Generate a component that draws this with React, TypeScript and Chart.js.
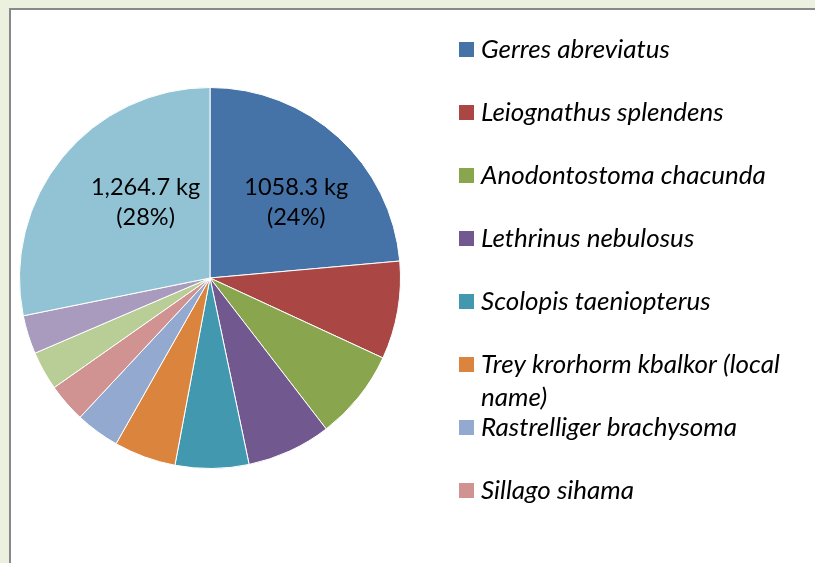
import React, { useEffect, useRef } from "react";
import { Chart, registerables } from "chart.js";

Chart.register(...registerables);

// ---- data ----
const species = [
  "Gerres abreviatus",
  "Leiognathus splendens",
  "Anodontostoma chacunda",
  "Lethrinus nebulosus",
  "Scolopis taeniopterus",
  "Trey krorhorm kbalkor (local name)",
  "Rastrelliger brachysoma",
  "Sillago sihama",
  "Species 9",
  "Species 10",
  "Others",
];
const catchKg = [1058.3, 373, 344, 321, 280, 236, 168, 148, 148, 147, 1264.7];
const sliceColors = [
  "#4572A7",
  "#AA4643",
  "#89A54E",
  "#71588F",
  "#4198AF",
  "#DB843D",
  "#93A9CF",
  "#D19392",
  "#B9CD96",
  "#A99BBD",
  "#92C3D5",
];
// legend lines as they wrap in the original (only the first 8 entries fit)
const legendLines = [
  ["Gerres abreviatus"],
  ["Leiognathus splendens"],
  ["Anodontostoma chacunda"],
  ["Lethrinus nebulosus"],
  ["Scolopis taeniopterus"],
  ["Trey krorhorm kbalkor (local", "name)"],
  ["Rastrelliger brachysoma"],
  ["Sillago sihama"],
];
// which slices carry a data label, and how the number is written
const labelledSlices = [0, 10];
const groupedFormat = [false, true];

// ---- styling / placement ----
const FONT = "Lato";
const LEGEND_X = 448;
const LEGEND_TOP = 39.5;
const LEGEND_STEP = 63;
const labelPlacement = [
  { shift: 5.7, frac: 0.608 },
  { shift: 10.9, frac: 0.528 },
];

function formatKg(v: number, grouped: boolean) {
  const s = grouped
    ? v.toLocaleString("en-US", { minimumFractionDigits: 1, maximumFractionDigits: 1 })
    : v.toFixed(1);
  return s + " kg";
}

const legendPlugin = {
  id: "customLegend",
  afterDraw(chart: any) {
    const ctx = chart.ctx;
    ctx.save();
    ctx.font = `italic 26px ${FONT}`;
    ctx.textAlign = "left";
    ctx.textBaseline = "alphabetic";
    legendLines.forEach((lines, i) => {
      const cy = LEGEND_TOP + i * LEGEND_STEP;
      ctx.fillStyle = sliceColors[i];
      ctx.fillRect(LEGEND_X, cy - 7.5, 15, 15);
      ctx.fillStyle = "#000";
      lines.forEach((t, j) => ctx.fillText(t, LEGEND_X + 22, cy + 8 + j * 33));
    });
    ctx.restore();
  },
};

const valueLabelPlugin = {
  id: "valueLabels",
  afterDatasetsDraw(chart: any) {
    const ctx = chart.ctx;
    const meta = chart.getDatasetMeta(0);
    const data = chart.data.datasets[0].data as number[];
    const total = data.reduce((a, b) => a + b, 0);
    ctx.save();
    ctx.font = `23.5px ${FONT}`;
    ctx.fillStyle = "#000";
    ctx.textAlign = "center";
    ctx.textBaseline = "alphabetic";
    labelledSlices.forEach((idx, k) => {
      const arc = meta.data[idx];
      const p = arc.getProps(["x", "y", "startAngle", "endAngle", "outerRadius"], true);
      const mid = (p.startAngle + p.endAngle) / 2 + (labelPlacement[k].shift * Math.PI) / 180;
      const r = p.outerRadius * labelPlacement[k].frac;
      const ax = p.x + Math.cos(mid) * r;
      const ay = p.y + Math.sin(mid) * r;
      const pct = Math.round((data[idx] / total) * 100);
      ctx.fillText(formatKg(data[idx], groupedFormat[k]), ax, ay - 6);
      ctx.fillText(`(${pct}%)`, ax, ay + 24);
    });
    ctx.restore();
  },
};

export default function App() {
  const ref = useRef<HTMLCanvasElement | null>(null);

  useEffect(() => {
    if (!ref.current) return;
    const chart = new Chart(ref.current, {
      type: "pie",
      data: {
        labels: species,
        datasets: [
          {
            data: catchKg,
            backgroundColor: sliceColors,
            borderColor: "#ffffff",
            borderWidth: 1,
          },
        ],
      },
      options: {
        responsive: false,
        animation: false,
        layout: { padding: { left: 8, top: 77, right: 414, bottom: 94 } },
        plugins: {
          legend: { display: false },
          tooltip: { enabled: false },
        },
      },
      plugins: [valueLabelPlugin, legendPlugin],
    });
    return () => chart.destroy();
  }, []);

  return (
    <div
      style={{
        position: "fixed",
        left: 0,
        top: 0,
        width: 815,
        height: 563,
        background: "#EBF1DE",
        overflow: "hidden",
      }}
    >
      <div
        style={{
          position: "absolute",
          left: 9,
          top: 8,
          width: 820,
          height: 570,
          background: "#ffffff",
          borderLeft: "2px solid #898989",
          borderTop: "2px solid #898989",
        }}
      >
        <canvas ref={ref} width={804} height={553} style={{ display: "block" }} />
      </div>
    </div>
  );
}
